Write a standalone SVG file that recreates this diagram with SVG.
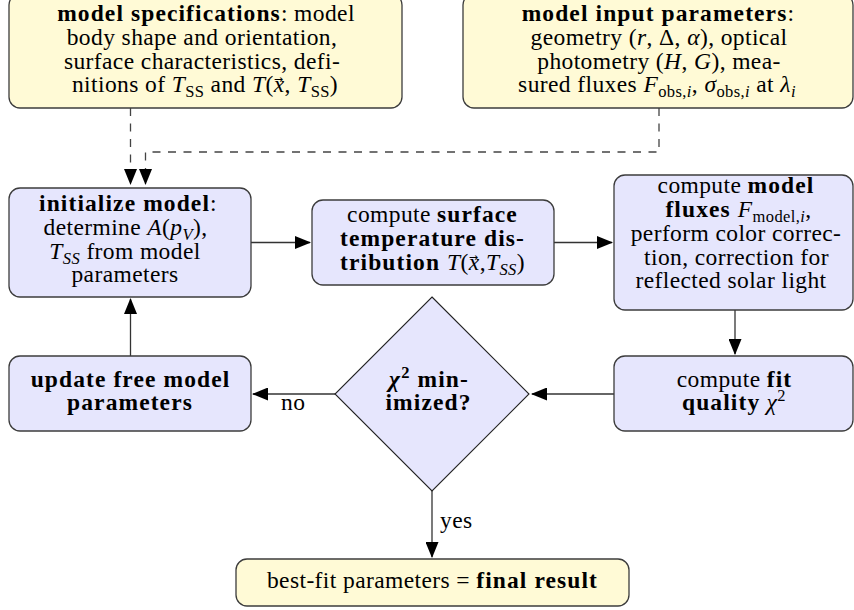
<svg xmlns="http://www.w3.org/2000/svg" width="854" height="610" viewBox="0 0 854 610">
  <style>
    .box { stroke: #3c3c3c; stroke-width: 1.3; }
    .yel { fill: #fffad6; }
    .blu { fill: #e6e6fd; }
    .t { font-family: 'Liberation Serif', serif; font-size: 23.5px; fill: #000; text-anchor: middle; letter-spacing: 0.4px; }
    .lbl { font-family: 'Liberation Serif', serif; font-size: 23.5px; fill: #000; letter-spacing: 0.4px; }
    .vec { font-family: 'DejaVu Sans', sans-serif; font-size: 11px; font-style: normal; letter-spacing: 0; }
    .b { font-weight: bold; letter-spacing: 1.1px; }
    .i { font-style: italic; }
    .sub { font-size: 16.5px; baseline-shift: -5px; }
    .sup { font-size: 16.5px; baseline-shift: 9px; }
    .solid { fill: none; stroke: #333; stroke-width: 1.3; }
    .dash { fill: none; stroke: #444; stroke-width: 1.3; stroke-dasharray: 8 7.5; }
  </style>
  <defs>
    <marker id="arrow" markerUnits="userSpaceOnUse" markerWidth="16" markerHeight="13" refX="15" refY="6.5" orient="auto">
      <path d="M0,0 L16,6.5 L0,13 z" fill="#000"/>
    </marker>
  </defs>

  <!-- connectors -->
  <g id="connectors" font-family="Liberation Serif, serif">
    <path class="dash" d="M130.5,108 V184" marker-end="url(#arrow)"/>
    <path class="dash" d="M659,108 V152 H145.5 V184" marker-end="url(#arrow)"/>
    <path class="solid" d="M251,242.5 H310" marker-end="url(#arrow)"/>
    <path class="solid" d="M554,242.5 H612" marker-end="url(#arrow)"/>
    <path class="solid" d="M735,310 V354" marker-end="url(#arrow)"/>
    <path class="solid" d="M614,394 H532" marker-end="url(#arrow)"/>
    <path class="solid" d="M336,394 H253" marker-end="url(#arrow)"/>
    <path class="solid" d="M130.5,356 V299" marker-end="url(#arrow)"/>
    <path class="solid" d="M432,491 V557" marker-end="url(#arrow)"/>
    <text class="lbl" x="281" y="410">no</text>
    <text class="lbl" x="440" y="528">yes</text>
  </g>

  <!-- model specifications -->
  <g id="model-specifications" font-family="Liberation Serif, serif">
    <rect class="box yel" x="9" y="-6" width="393" height="114" rx="11"/>
    <text class="t" x="206" y="21"><tspan class="b">model specifications</tspan>: model</text>
    <text class="t" x="202" y="45">body shape and orientation,</text>
    <text class="t" x="202" y="68.5">surface characteristics, defi-</text>
    <text class="t" x="205" y="92">nitions of <tspan class="i">T</tspan><tspan class="sub">SS</tspan> and <tspan class="i">T</tspan>(<tspan class="i">x</tspan><tspan class="vec" dx="-10.8" dy="-9.5">→</tspan><tspan dx="1.6" dy="9.5">, </tspan><tspan class="i">T</tspan><tspan class="sub">SS</tspan>)</text>
  </g>

  <!-- model input parameters -->
  <g id="model-input-parameters" font-family="Liberation Serif, serif">
    <rect class="box yel" x="463" y="-6" width="390" height="114" rx="11"/>
    <text class="t" x="658" y="21"><tspan class="b">model input parameters</tspan>:</text>
    <text class="t" x="659" y="45">geometry (<tspan class="i">r</tspan>, Δ, <tspan class="i">α</tspan>), optical</text>
    <text class="t" x="659" y="68.5">photometry (<tspan class="i">H</tspan>, <tspan class="i">G</tspan>), mea-</text>
    <text class="t" x="657" y="92">sured fluxes <tspan class="i">F</tspan><tspan class="sub">obs,</tspan><tspan class="sub i">i</tspan>, <tspan class="i">σ</tspan><tspan class="sub">obs,</tspan><tspan class="sub i">i</tspan> at <tspan class="i">λ</tspan><tspan class="sub i">i</tspan></text>
  </g>

  <!-- initialize model -->
  <g id="initialize-model" font-family="Liberation Serif, serif">
    <rect class="box blu" x="9" y="188" width="242" height="109" rx="11"/>
    <text class="t" x="128" y="211"><tspan class="b">initialize model</tspan>:</text>
    <text class="t" x="125.5" y="235">determine <tspan class="i">A</tspan>(<tspan class="i">p</tspan><tspan class="sub i">V</tspan>),</text>
    <text class="t" x="125" y="258.5"><tspan class="i">T</tspan><tspan class="sub i">SS</tspan> from model</text>
    <text class="t" x="125" y="282">parameters</text>
  </g>

  <!-- surface temperature distribution -->
  <g id="surface-temperature" font-family="Liberation Serif, serif">
    <rect class="box blu" x="312" y="200" width="242" height="85" rx="11"/>
    <text class="t" x="432.5" y="222">compute <tspan class="b">surface</tspan></text>
    <text class="t" x="432.5" y="246"><tspan class="b">temperature dis-</tspan></text>
    <text class="t" x="432.5" y="270"><tspan class="b">tribution </tspan><tspan class="i">T</tspan>(<tspan class="i">x</tspan><tspan class="vec" dx="-10.8" dy="-9.5">→</tspan><tspan dx="1.6" dy="9.5">,</tspan><tspan class="i">T</tspan><tspan class="sub i">SS</tspan>)</text>
  </g>

  <!-- model fluxes -->
  <g id="model-fluxes" font-family="Liberation Serif, serif">
    <rect class="box blu" x="614" y="175" width="239" height="135" rx="11"/>
    <text class="t" x="736" y="193">compute <tspan class="b">model</tspan></text>
    <text class="t" x="738.5" y="217"><tspan class="b">fluxes </tspan><tspan class="i">F</tspan><tspan class="sub">model,</tspan><tspan class="sub i">i</tspan>,</text>
    <text class="t" x="736" y="241">perform color correc-</text>
    <text class="t" x="736.5" y="264.5">tion, correction for</text>
    <text class="t" x="731" y="288">reflected solar light</text>
  </g>

  <!-- fit quality -->
  <g id="fit-quality" font-family="Liberation Serif, serif">
    <rect class="box blu" x="614" y="356" width="239" height="75" rx="11"/>
    <text class="t" x="734.5" y="387">compute <tspan class="b">fit</tspan></text>
    <text class="t" x="734" y="410"><tspan class="b">quality</tspan> <tspan class="i">χ</tspan><tspan class="sup">2</tspan></text>
  </g>

  <!-- chi-square decision -->
  <g id="chi2-minimized" font-family="Liberation Serif, serif">
    <polygon points="432,297 529,394 432,491 335,394" fill="#e6e6fd" stroke="#222" stroke-width="1.1"/>
    <text class="t b" x="429" y="387"><tspan class="i">χ</tspan><tspan class="sup">2</tspan> min-</text>
    <text class="t b" x="428.5" y="410">imized?</text>
  </g>

  <!-- update free model parameters -->
  <g id="update-parameters" font-family="Liberation Serif, serif">
    <rect class="box blu" x="9" y="356" width="242" height="75" rx="11"/>
    <text class="t b" x="130.5" y="387">update free model</text>
    <text class="t b" x="130" y="410">parameters</text>
  </g>

  <!-- final result -->
  <g id="final-result" font-family="Liberation Serif, serif">
    <rect class="box yel" x="236" y="559" width="393" height="47" rx="11"/>
    <text class="t" x="432.5" y="588">best-fit parameters = <tspan class="b">final result</tspan></text>
  </g>
</svg>
